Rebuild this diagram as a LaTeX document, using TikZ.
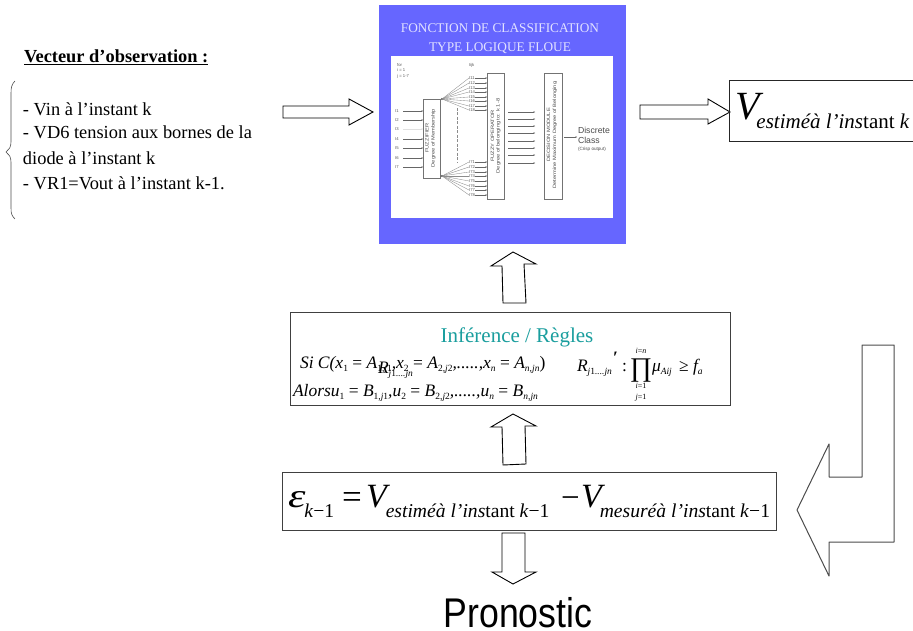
\documentclass[tikz,border=0pt]{standalone}
\usepackage{fontspec}
\usepackage{graphicx}
\setmainfont{Liberation Serif}
\setsansfont{Liberation Sans}
\newcommand\fs[1]{\fontsize{#1}{#1}\selectfont}
\newcommand\up[1]{\textup{#1}}
% rule-formula subscript
\newcommand\rsub[1]{\raisebox{-3pt}{\fs{9.5}#1}}
% big subscripts
\newcommand\vsub[1]{\raisebox{-9pt}{\fs{21}\itshape #1}}
\newcommand\esub[1]{\raisebox{-10pt}{\fs{19.6}\itshape #1}}
\newcommand\wide[1]{\scalebox{1.22}[1]{#1}}
\usetikzlibrary{arrows.meta}
\tikzset{
  blockarrow/.style={draw=black,line width=0.9pt,fill=white,line join=miter},
  framebox/.style={draw=black!75,line width=1pt,fill=white,anchor=north west,inner sep=0pt},
  lab/.style={anchor=base west,inner sep=0pt,outer sep=0pt},
  clab/.style={anchor=base,inner sep=0pt,outer sep=0pt},
  inbox/.style={draw=black!55,line width=0.5pt,anchor=north west,inner sep=0pt},
  inlab/.style={anchor=base west,inner sep=0pt,font=\sffamily\fs{4.2},text=black!65},
  rotlab/.style={rotate=90,inner sep=0pt,font=\sffamily\fs{4.7},text=black!70},
  inarrow/.style={draw=black!60,line width=0.4pt,-{Stealth[length=1.5pt,width=1.5pt]}},
  fanline/.style={draw=black!45,line width=0.35pt},
}
\begin{document}
\begin{tikzpicture}[x=1pt,y=-1pt]
\useasboundingbox (0,0) rectangle (913,631);

% ---- left text
\node[lab,font=\fs{18.4}] (title) at (24,63) {\underline{\textbf{Vecteur d’observation :}}};
\node[lab,font=\fs{18.4}] (l1) at (23,116) {- Vin à l’instant k};
\node[lab,font=\fs{18.4}] (l2) at (23,139) {- VD6 tension aux bornes de la};
\node[lab,font=\fs{18.4}] (l3) at (23,165) {diode à l’instant k};
\node[lab,font=\fs{18.4}] (l4) at (23,190) {- VR1=Vout à l’instant k-1.};
\draw[black!70,line width=0.6pt] (15,81) .. controls (12,84) and (11,87) .. (11,93) -- (11,142)
  .. controls (11,147) and (9,150) .. (6,152) .. controls (9,154) and (11,157) .. (11,162) -- (11,208)
  .. controls (11,214) and (12,216) .. (15,219);

% ---- block arrows
\draw[blockarrow] (283,106) -- (349,106) -- (349,99) -- (373,112) -- (349,125) -- (349,118) -- (283,118) -- cycle;
\draw[blockarrow] (640,105) -- (708,105) -- (708,99) -- (730,112) -- (708,124) -- (708,119) -- (640,119) -- cycle;
\draw[blockarrow] (513,252) -- (536,264) -- (524,264) -- (526,303) -- (503,303) -- (502,266) -- (491,266) -- cycle;
\draw[blockarrow] (513,414) -- (536,426) -- (525,426) -- (526,464) -- (503,465) -- (502,427) -- (491,427) -- cycle;
\draw[blockarrow] (502,533) -- (525,533) -- (525,572) -- (536,572) -- (513,584) -- (492,572) -- (502,572) -- cycle;
\draw[draw=black!70,line width=1pt,fill=white,line join=round] (862,345) -- (894,345) -- (894,542) -- (829,542) -- (829,576) -- (797,510) -- (829,444) -- (829,477) -- (862,477) -- cycle;

% ---- classification panel
\fill[fill={rgb,255:red,102;green,102;blue,255}] (379,5) rectangle (626,244);
\fill[white] (391,56) rectangle (613,218);
\node[clab,font=\fs{13.3},text={rgb,255:red,225;green,225;blue,255}] (ft1) at (500,33) {FONCTION DE CLASSIFICATION};
\node[clab,font=\fs{13.3},text={rgb,255:red,225;green,225;blue,255}] (ft2) at (500,52) {TYPE LOGIQUE FLOUE};

\node[inlab] (for1) at (397,67) {for};
\node[inlab] (for2) at (397,72) {i = 1};
\node[inlab] (for3) at (397,78) {j = 1-7};
\node[inlab] (ijk) at (469,67) {Iijk};

\node[inbox,minimum width=17pt,minimum height=79pt] (fuzz) at (423,99) {};
\node[inbox,minimum width=17pt,minimum height=126pt] (oper) at (487,73) {};
\node[inbox,minimum width=18pt,minimum height=126pt] (deci) at (544,73) {};
\node[rotlab] (fz1) at (427,138) {\wide{FUZZIFIER}};
\node[rotlab] (fz2) at (433.5,138) {\wide{Degree of Membership}};
\node[rotlab] (op1) at (492.5,136) {\wide{FUZZY OPERATOR}};
\node[rotlab] (op2) at (498.5,136) {\wide{Degree of belonging to: k 1-8}};
\node[rotlab] (de1) at (548.5,135) {\wide{DECISION MODULE}};
\node[rotlab] (de2) at (555,135) {\wide{Determine Maximum Degree of Belonging}};

% inputs
\foreach \n/\y in {1/111,2/120,3/129,4/139,5/148,6/158,7/167}{
  \node[inlab,anchor=west] (in\n) at (395,\y) {I\n};
}
\foreach \n in {1,2,4,5,6,7}{
  \draw[inarrow] (in\n.east -| 403,0) -- (fuzz.west |- in\n.east);
}
\draw[inarrow,draw=black!12] (in3.east -| 403,0) -- (fuzz.west |- in3.east);

% fans
\coordinate (fanA) at (442,99);
\coordinate (fanB) at (442,176);
\fill[black!70] (fanA) circle (1.2pt);
\fill[black!70] (fanB) circle (1.2pt);
\foreach \n/\y in {1/78,2/83,3/88,4/92,5/97,6/101,7/106,8/110}{
  \node[inlab,anchor=west] (ua\n) at (469,\y) {I1\n};
  \draw[fanline] (fanA) -- (ua\n.west);
  \draw[inarrow] (ua\n.east) -- (oper.west |- ua\n.east);
}
\foreach \n/\y in {1/162,2/167,3/172,4/176,5/181,6/186,7/190,8/195}{
  \node[inlab,anchor=west] (ub\n) at (469,\y) {I7\n};
  \draw[fanline] (fanB) -- (ub\n.west);
  \draw[inarrow] (ub\n.east) -- (oper.west |- ub\n.east);
}
\coordinate (dashA) at (457,108);
\coordinate (dashB) at (457,163);
\draw[draw=black!45,line width=0.4pt,dash pattern=on 3pt off 1.5pt] (dashA) -- (dashB);

% operator to decision
\foreach \n/\y in {1/112,2/119,3/126,4/133,5/141,6/148,7/155,8/163}{
  \coordinate (mid\n) at (508,\y);
  \draw[inarrow] (mid\n) -- (535,\y);
}

% output
\node[lab,font=\sffamily\fs{8.7},text=black!70] (dis) at (578,134) {Discrete};
\node[lab,font=\sffamily\fs{8.7},text=black!70] (cla) at (578,144) {Class};
\node[lab,font=\sffamily\fs{4.6},text=black!70] (cri) at (578,151) {(Crisp output)};
\coordinate (outA) at (564,137);
\draw[inarrow] (outA) -- (577,137);

% ---- V estimated box
\draw[black!85,line width=1pt] (913,81) -- (729,81) -- (729,142) -- (913,142);
\node[lab] (vest) at (735,120) {\fs{40}\itshape V\hspace{-3pt}\vsub{estiméà l'ins\up{tant} k}};

% ---- inference box
\node[framebox,minimum width=440pt,minimum height=93pt] (infer) at (290,312) {};
\node[clab,font=\fs{21},text={rgb,255:red,26;green,158;blue,158}] (inft) at (517,342) {Inférence / Règles};
\node[lab,font=\fs{17.5}\itshape] (r1) at (300,368) {Si C(x\rsub{\up{1}} \up{=} A\rsub{\up{1,}j\up{1}},x\rsub{\up{2}} \up{=} A\rsub{\up{2,}j\up{2}},.....,x\rsub{n} \up{=} A\rsub{n,jn}\up{)}};
\node[lab,font=\fs{17.5}\itshape] (r2) at (293,396) {Alorsu\rsub{\up{1}} \up{=} B\rsub{\up{1,}j\up{1}},u\rsub{\up{2}} \up{=} B\rsub{\up{2,}j\up{2}},.....,u\rsub{n} \up{=} B\rsub{n,jn}};
\node[lab,font=\fs{17.5}\itshape] (r3) at (378,373) {R\rsub{j\up{1}....jn}};
\node[lab,font=\fs{17.5}\itshape] (r4) at (577,371) {R\rsub{j\up{1}....jn}};
\node[lab,font=\fs{17.5}] (pr) at (613,363) {\textbf{′}};
\node[lab,font=\fs{17.5}] (co) at (622,371) {:};
\node[clab,font=\fs{27}] (pi) at (641,376) {∏};
\node[clab,font=\fs{8}] (pt) at (641,353) {\textit{i}=\textit{n}};
\node[clab,font=\fs{8}] (pb) at (641,388) {\textit{i}=1};
\node[clab,font=\fs{8}] (pj) at (641,399) {\textit{j}=1};
\node[lab,font=\fs{17.5}\itshape] (mu) at (652,371) {μ\rsub{Aij}};
\node[lab,font=\fs{17.5}] (ge) at (679,371) {≥};
\node[lab,font=\fs{17.5}\itshape] (fa) at (693,371) {f\rsub{a}};

% ---- error box
\node[framebox,minimum width=494pt,minimum height=58pt] (err) at (282,472) {};
\node[lab] (eps) at (288,507) {\fs{34}\itshape \scalebox{1.3}[1]{ε}\hspace{-1pt}\esub{k\up{−1}}};
\node[lab,font=\fs{35}] (eq) at (342,508) {=};
\node[lab] (v1) at (366,507) {\fs{34}\itshape V\hspace{-1pt}\esub{estiméà l'ins\up{tant} k\up{−1}}};
\node[lab,font=\fs{33}] (mi) at (561,508) {−};
\node[lab] (v2) at (581,507) {\fs{34}\itshape V\hspace{-2pt}\esub{mesuréà l'ins\up{tant} k\up{−1}}};

% ---- Pronostic
\node[clab,font=\sffamily\fs{41.5}] (pron) at (518,627) {\scalebox{.86}[1]{Pronostic}};
\end{tikzpicture}
\end{document}
